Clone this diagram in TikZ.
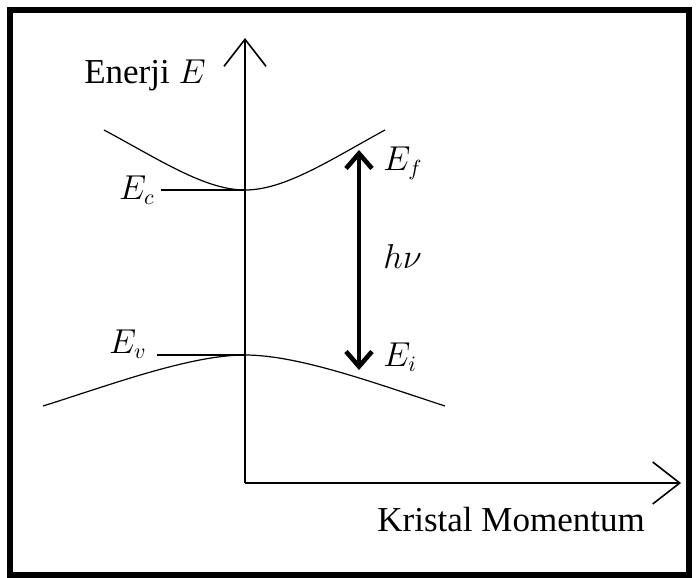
\documentclass[tikz,border=0pt]{standalone}
\usepackage{fontspec}
\setmainfont{Liberation Serif}
\usetikzlibrary{arrows.meta}

\begin{document}
\begin{tikzpicture}[x=0.5pt,y=-0.5pt,
    axis/.style={line width=0.8pt,-{Straight Barb[length=13.5pt,width=21pt]}},
    band/.style={line width=0.6pt},
    trans/.style={line width=2.3pt,{Straight Barb[length=7.5pt,width=13pt]}-{Straight Barb[length=7.5pt,width=13pt]}},
    txt/.style={inner sep=0pt,font=\fontsize{17.5pt}{21pt}\selectfont},
    lbl/.style={inner sep=3pt,font=\fontsize{16pt}{19pt}\selectfont}]
\useasboundingbox (0,0) rectangle (696,578);
\draw[line width=3pt] (10,10) rectangle (689,575);
% axes
\coordinate (O) at (245,483);
\coordinate (Etop) at (245,38);
\coordinate (kend) at (681,483);
\draw[axis] (O) -- (Etop);
\draw[axis] (O) -- (kend);
\node[txt,anchor=base east] (Elabel) at (206,83) {Enerji $E$};
\node[txt,anchor=base west] (klabel) at (377,531) {Kristal Momentum};
% conduction band
\coordinate (cL) at (104,130);
\coordinate (cmin) at (245,190);
\coordinate (cR) at (385,130);
\draw[band] (cL) .. controls (160,160) and (205,190) .. (cmin) .. controls (285,190) and (330,160) .. (cR);
\node[lbl,anchor=east] (Ec) at (161,190) {$E_c$};
\draw[band] (Ec.east) -- (cmin);
% valence band
\coordinate (vL) at (43,406);
\coordinate (vmax) at (245,355);
\coordinate (vR) at (445,406);
\draw[band] (vL) .. controls (110,385) and (190,355) .. (vmax) .. controls (300,355) and (380,385) .. (vR);
\node[lbl,anchor=base east] (Ev) at (153,353) {$E_v$};
\draw[band] (Ev.base east) ++(4,2) coordinate (evs) (evs) -- (vmax);
% transition
\coordinate (ai) at (359,370);
\coordinate (af) at (359,150);
\draw[trans] (ai) -- (af);
\node[lbl,anchor=base west] (Ef) at (377,170) {$E_f$};
\node[lbl,anchor=base west] (hnu) at (377,268) {$h\nu$};
\node[lbl,anchor=base west] (Ei) at (377,366) {$E_i$};
\end{tikzpicture}
\end{document}
